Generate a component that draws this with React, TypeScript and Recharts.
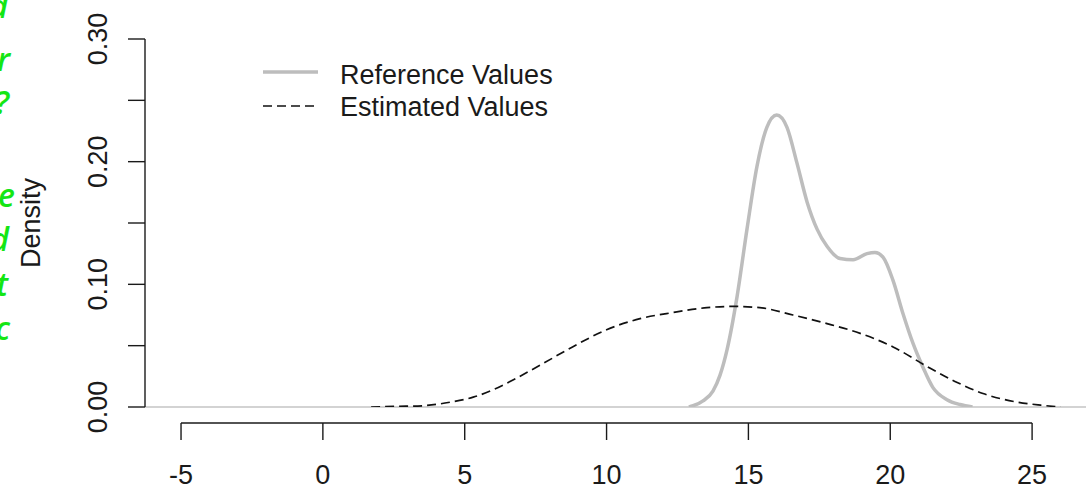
import { LineChart, Line, XAxis, YAxis, ReferenceLine } from 'recharts'

// density curves
const REF_X = [12.9, 13.05, 13.4, 13.75, 14.0, 14.25, 14.6, 14.95, 15.3, 15.65, 16.0, 16.36, 16.71, 17.07, 17.42, 17.77, 18.23, 18.69, 19.18, 19.46, 19.75, 20.1, 20.45, 20.8, 21.16, 21.5, 22.0, 22.46, 22.9]
const REF_Y = [0, 0.001, 0.005, 0.013, 0.026, 0.047, 0.09, 0.145, 0.196, 0.228, 0.238, 0.228, 0.199, 0.167, 0.145, 0.131, 0.121, 0.12, 0.125, 0.126, 0.122, 0.103, 0.076, 0.052, 0.032, 0.016, 0.006, 0.002, 0]

const EST_X = [1.7, 2.5, 3.5, 4.5, 5.3, 6.0, 6.7, 7.65, 8.8, 10.0, 11.18, 12.34, 13.54, 14.46, 15.4, 16.57, 17.77, 18.94, 20.1, 21.3, 22.36, 23.27, 24.47, 25.3, 26.0]
const EST_Y = [0, 0.0005, 0.001, 0.004, 0.008, 0.014, 0.022, 0.034, 0.049, 0.063, 0.072, 0.077, 0.081, 0.082, 0.081, 0.075, 0.068, 0.06, 0.049, 0.033, 0.02, 0.011, 0.004, 0.0015, 0]

const X_TICKS = [-5, 0, 5, 10, 15, 20, 25]
const Y_TICKS = [0, 0.05, 0.1, 0.15, 0.2, 0.25, 0.3]
const Y_LABELED = [0, 0.1, 0.2, 0.3]

const SERIES_NAMES = ['Reference Values', 'Estimated Values']
const SIDE_LETTERS = ['d', 'r', '?', 'e', 'd', 't', 'c']

const refData = REF_X.map((x, i) => ({ x, y: REF_Y[i] }))
const estData = EST_X.map((x, i) => ({ x, y: EST_Y[i] }))

const W = 1086
const H = 499
const PLOT_LEFT = 145
const PLOT_TOP = 39
const PLOT_BOTTOM = 407
const X_MIN = -6.27
const X_MAX = 26.9
const AXIS_Y = 423
const TICK_LEN = 17
const FONT = '"Liberation Sans", Arial, sans-serif'
const INK = '#1a1a1a'
const pxPerUnit = (W - PLOT_LEFT) / (X_MAX - X_MIN)

const XTick = (props: any) => {
  const { x, payload, index } = props
  const span = (X_TICKS[X_TICKS.length - 1] - X_TICKS[0]) * pxPerUnit
  return (
    <g>
      {index === 0 && <line x1={x} y1={AXIS_Y} x2={x + span} y2={AXIS_Y} stroke={INK} strokeWidth={1.4} />}
      <line x1={x} y1={AXIS_Y} x2={x} y2={AXIS_Y + TICK_LEN} stroke={INK} strokeWidth={1.4} />
      <text x={x} y={484} textAnchor="middle" fontSize={27} fontFamily={FONT} fill={INK}>
        {payload.value}
      </text>
    </g>
  )
}

const YTick = (props: any) => {
  const { y, payload } = props
  if (!Y_LABELED.some(v => Math.abs(v - payload.value) < 1e-9)) return <g />
  return (
    <text
      transform={`translate(107, ${y}) rotate(-90)`}
      textAnchor="middle"
      fontSize={27}
      fontFamily={FONT}
      fill={INK}
    >
      {payload.value.toFixed(2)}
    </text>
  )
}

const sideY = [18, 71, 114, 207, 251, 296, 340]
const sideX = [8, 10, 9, 15, 9, 8, 10]

export default function App() {
  return (
    <div style={{ position: 'absolute', left: 0, top: 0, width: W, height: H, background: '#fff' }}>
      <LineChart width={W} height={H} margin={{ top: PLOT_TOP, right: 0, bottom: 0, left: 0 }}>
        <XAxis
          dataKey="x"
          type="number"
          domain={[X_MIN, X_MAX]}
          ticks={X_TICKS}
          allowDataOverflow
          axisLine={false}
          tickLine={false}
          height={H - PLOT_BOTTOM}
          tick={<XTick />}
          interval={0}
        />
        <YAxis
          type="number"
          domain={[0, 0.3]}
          ticks={Y_TICKS}
          allowDataOverflow
          width={PLOT_LEFT}
          tickSize={TICK_LEN}
          axisLine={{ stroke: INK, strokeWidth: 1.4 }}
          tickLine={{ stroke: INK, strokeWidth: 1.4 }}
          tick={<YTick />}
          interval={0}
          label={{
            content: () => (
              <text transform="translate(40, 223) rotate(-90)" textAnchor="middle" fontSize={27} fontFamily={FONT} fill={INK}>
                Density
              </text>
            ),
          }}
        />
        <ReferenceLine y={0} stroke="#c4c4c4" strokeWidth={1.5} />
        <Line
          data={refData}
          dataKey="y"
          name={SERIES_NAMES[0]}
          type="monotone"
          stroke="#bdbdbd"
          strokeWidth={3.5}
          dot={false}
          isAnimationActive={false}
        />
        <Line
          data={estData}
          dataKey="y"
          name={SERIES_NAMES[1]}
          type="monotone"
          stroke="#111"
          strokeWidth={1.7}
          strokeDasharray="9 5"
          dot={false}
          isAnimationActive={false}
        />
      </LineChart>
      <svg width={W} height={H} style={{ position: 'absolute', left: 0, top: 0, pointerEvents: 'none' }}>
        <line x1={263} y1={72} x2={318} y2={72} stroke="#bdbdbd" strokeWidth={3.5} />
        <line x1={263} y1={106} x2={315} y2={106} stroke="#111" strokeWidth={1.7} strokeDasharray="9 5" />
        <text x={340} y={84} fontSize={27} fontFamily={FONT} fill={INK}>{SERIES_NAMES[0]}</text>
        <text x={340} y={116} fontSize={27} fontFamily={FONT} fill={INK}>{SERIES_NAMES[1]}</text>
        {SIDE_LETTERS.map((ch, i) => (
          <text
            key={i}
            x={sideX[i]}
            y={sideY[i]}
            textAnchor="end"
            fontSize={32}
            fontStyle="italic"
            fontWeight={600}
            fontFamily='"Open Sans", sans-serif'
            fill="#14e614"
          >
            {ch}
          </text>
        ))}
      </svg>
    </div>
  )
}
